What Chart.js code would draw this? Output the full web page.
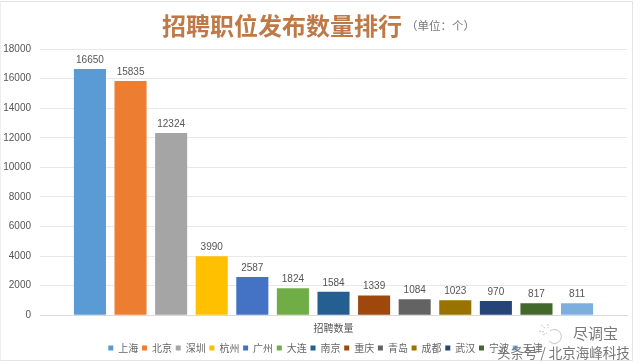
<!DOCTYPE html>
<html>
<head>
<meta charset="utf-8">
<script src="https://cdn.jsdelivr.net/npm/chart.js@4"></script>
<style>
body { margin: 0; background: #fff; }
#wrap { position: relative; width: 640px; height: 364px; overflow: hidden; }
#box { position: absolute; left: 0; top: 1px; width: 631px; height: 358px; border: 1px solid #e4e4e4; border-left-color: #eee; }
#mychart { position: absolute; left: 0; top: 0; }
.t { position: absolute; white-space: nowrap; }
#title { left: 162px; top: 7px; font: bold 24px "Noto Sans CJK SC"; color: #bd7a48; }
#unit { left: 406px; top: 17px; font: 11.5px "Noto Sans CJK SC"; color: #777; }
#mark1 { left: 573px; top: 322px; font: 15px "Noto Sans CJK SC"; color: #777; }
#mark2 { left: 497px; top: 342px; font: 13.5px "Noto Sans CJK SC"; color: #777; }
#icon { position: absolute; left: 538px; top: 322px; }
</style>
</head>
<body>
<div id="wrap">
  <div id="box"></div>
  <canvas id="mychart" width="640" height="364"></canvas>
  <svg id="icon" width="30" height="24" fill="none" stroke="#c4c4c4" stroke-width="1">
    <path d="M12 9a7 7 0 1 1 -1 10" />
    <path d="M3 3l4 3M10 2l0 4M1 9l5 1M5 13l4-2" stroke-dasharray="2 1" />
  </svg>
  <div class="t" id="title">招聘职位发布数量排行</div>
  <div class="t" id="unit">（单位：个）</div>
  <div class="t" id="mark1">尽调宝</div>
  <div class="t" id="mark2">头条号 / 北京海峰科技</div>
</div>
<script>
var category = ['招聘数量'];
var cities = ['上海', '北京', '深圳', '杭州', '广州', '大连', '南京', '重庆', '青岛', '成都', '武汉', '宁波', '天津'];
var jobs = [16650, 15835, 12324, 3990, 2587, 1824, 1584, 1339, 1084, 1023, 970, 817, 811];
var colors = ['#5b9bd5', '#ed7d31', '#a5a5a5', '#ffc000', '#4472c4', '#70ad47', '#255e91', '#9e480e', '#636363', '#997300', '#264478', '#43682b', '#7cafdd'];
var yTicks = [0, 2000, 4000, 6000, 8000, 10000, 12000, 14000, 16000, 18000];

var sets = [];
for (var i = 0; i < cities.length; i++) {
    sets.push({
        label: cities[i],
        data: [jobs[i]],
        backgroundColor: colors[i],
        categoryPercentage: 0.899,
        barPercentage: 0.79
    });
}

// value above each bar
var barLabels = {
    id: 'barLabels',
    afterLayout: function (chart) {
        // legend sits a bit right of centre in the original
        chart.legend.left += 12;
        chart.legend.right += 12;
    },
    afterDatasetsDraw: function (chart) {
        var ctx = chart.ctx;
        ctx.save();
        ctx.font = '10px "Liberation Sans"';
        ctx.fillStyle = '#555';
        ctx.textAlign = 'center';
        ctx.textBaseline = 'bottom';
        chart.data.datasets.forEach(function (ds, n) {
            var bar = chart.getDatasetMeta(n).data[0];
            ctx.fillText(ds.data[0], bar.x, bar.y - 4);
        });
        ctx.restore();
    }
};

var myChart = new Chart(document.getElementById('mychart'), {
    type: 'bar',
    data: { labels: category, datasets: sets },
    plugins: [barLabels],
    options: {
        responsive: false,
        animation: false,
        layout: { padding: { left: 0, right: 13, top: 49, bottom: 1 } },
        plugins: {
            tooltip: { enabled: false },
            legend: {
                position: 'bottom',
                onClick: null,
                labels: { boxWidth: 5, boxHeight: 5, padding: 3.7, color: '#666', font: { size: 10, family: '"Noto Sans CJK SC"' } }
            }
        },
        scales: {
            x: {
                grid: { display: false },
                border: { color: '#d9d9d9' },
                afterFit: function (axis) { axis.height = 24; },
                ticks: { color: '#555', font: { size: 10, family: '"Noto Sans CJK SC"' }, padding: -1 }
            },
            y: {
                min: 0,
                max: 18000,
                afterBuildTicks: function (axis) {
                    axis.ticks = yTicks.map(function (v) { return { value: v }; });
                },
                afterFit: function (axis) { axis.width = 40; },
                grid: { color: '#e8e8e8', drawTicks: false },
                border: { display: false },
                ticks: {
                    color: '#555',
                    padding: 9,
                    font: { size: 10, family: '"Liberation Sans"' },
                    callback: function (v) { return String(v); }
                }
            }
        }
    }
});
</script>
</body>
</html>
